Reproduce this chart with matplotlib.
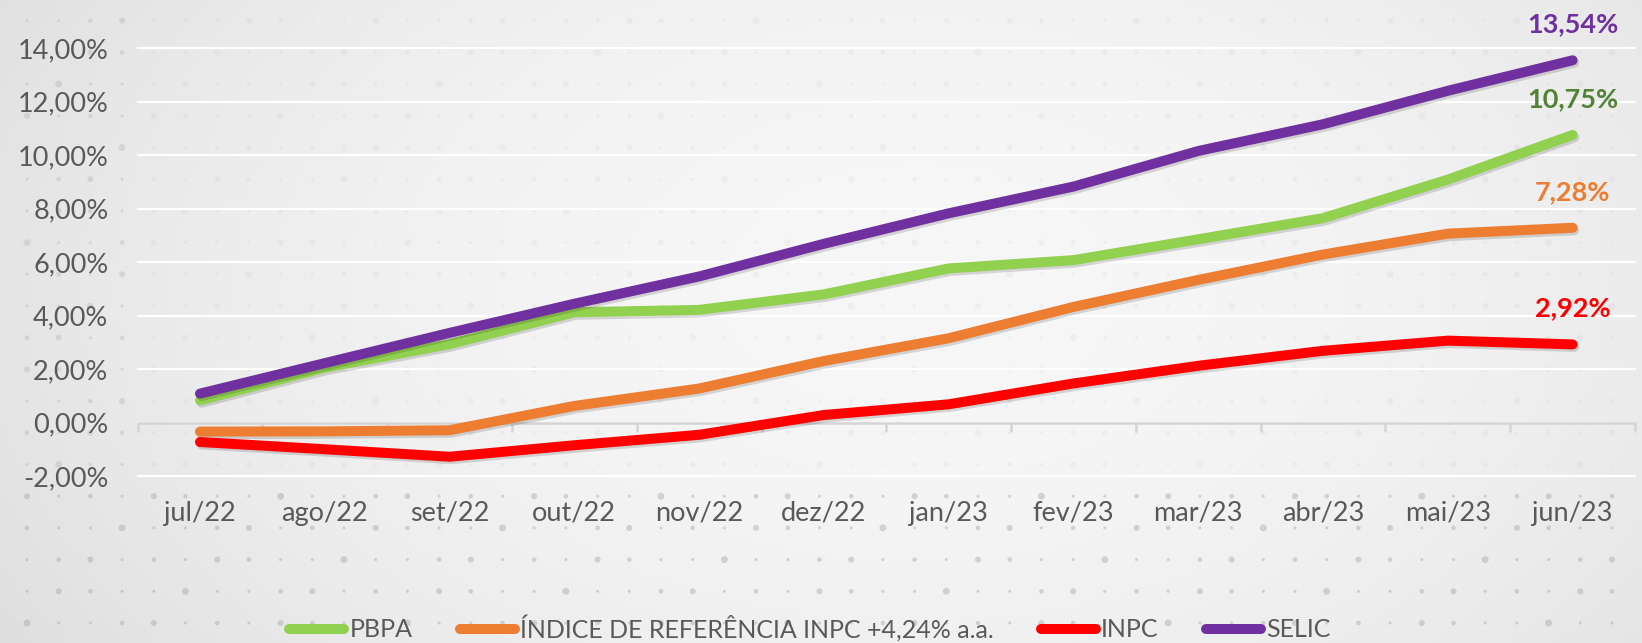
import matplotlib
matplotlib.use("Agg")
import matplotlib.pyplot as plt
import numpy as np
from matplotlib import patheffects as pe
from matplotlib.lines import Line2D
from matplotlib.ticker import FixedLocator, FuncFormatter

# ---------------- data ----------------
months = ["jul/22", "ago/22", "set/22", "out/22", "nov/22", "dez/22",
          "jan/23", "fev/23", "mar/23", "abr/23", "mai/23", "jun/23"]
pbpa = [0.83, 2.05, 2.93, 4.12, 4.21, 4.79, 5.76, 6.07, 6.85, 7.64, 9.08, 10.75]
indice = [-0.34, -0.33, -0.29, 0.62, 1.27, 2.30, 3.15, 4.32, 5.33, 6.28, 7.06, 7.28]
inpc = [-0.73, -1.00, -1.28, -0.85, -0.46, 0.28, 0.68, 1.46, 2.12, 2.68, 3.06, 2.92]
selic = [1.08, 2.22, 3.35, 4.44, 5.46, 6.68, 7.82, 8.82, 10.15, 11.15, 12.40, 13.54]

series_names = ["PBPA", "ÍNDICE DE REFERÊNCIA INPC +4,24% a.a.", "INPC", "SELIC"]
series_values = [pbpa, indice, inpc, selic]
series_colors = ["#92d050", "#ed7d31", "#ff0000", "#7030a0"]
label_colors = ["#548235", "#ed7d31", "#ff0000", "#7030a0"]
y_ticks = [-2, 0, 2, 4, 6, 8, 10, 12, 14]

FONT = ["Lato", "DejaVu Sans"]
plt.rcParams["font.family"] = FONT
TXT = "#595959"

W, H, DPI = 1642, 643, 100
fig = plt.figure(figsize=(W / DPI, H / DPI), dpi=DPI)

# ---------------- background ----------------
bg = fig.add_axes([0, 0, 1, 1], zorder=-10)
bg.set_axis_off()
gx = np.linspace(0, 1, 400)
gy = np.linspace(0, 1, 160)
GX, GY = np.meshgrid(gx, gy)
dx = (GX - 0.56) / 0.56
dy = (GY - 0.45) / 0.55
val = 0.968 - 0.07 * dx ** 2 - 0.025 * dy ** 2
val = np.clip(val, 0, 1)
img = np.dstack([val, val, val])
bg.imshow(img, extent=[0, W, 0, H], origin="upper", aspect="auto")
# faint dot pattern (decoration)
px = np.arange(27, W, 31.7)
py = np.arange(623, -10, -31.7)
DX, DY = np.meshgrid(px, py)
ii, jj = np.meshgrid(np.arange(len(px)), np.arange(len(py)))
sizes = 5 + 14 * (((ii * 3 + jj * 5) % 4) == 0) + 6 * ((ii + jj) % 3 == 0)
alpha_band = np.where(DY > 480, 0.45, 0.10)
alpha_band = np.where(DX < 130, np.maximum(alpha_band, 0.3), alpha_band)
cols = np.zeros((DX.size, 4))
cols[:, :3] = 0.66
cols[:, 3] = alpha_band.ravel()
bg.scatter(DX.ravel(), H - DY.ravel(), s=sizes.ravel(), c=cols, linewidths=0)
bg.set_xlim(0, W)
bg.set_ylim(0, H)

# ---------------- main axes ----------------
left, right, top, bottom = 137.6, 1635.0, 48.0, 476.0
ax = fig.add_axes([left / W, 1 - bottom / H, (right - left) / W, (bottom - top) / H])
ax.set_facecolor("none")
x = np.arange(len(months))
ax.set_xlim(-0.5, len(months) - 0.5)
ax.set_ylim(y_ticks[0], y_ticks[-1])

for s in ["top", "right", "left"]:
    ax.spines[s].set_visible(False)
ax.spines["bottom"].set_position(("data", 0))
ax.spines["bottom"].set_color("#d4d4d4")
ax.spines["bottom"].set_linewidth(1.8)
ax.spines["bottom"].set_zorder(1)

ax.xaxis.set_major_locator(FixedLocator(x))
ax.xaxis.set_minor_locator(FixedLocator(np.arange(len(months) + 1) - 0.5))
ax.tick_params(axis="x", which="major", length=0, labelbottom=False)
ax.tick_params(axis="x", which="minor", length=6.5, width=1.8, color="#d4d4d4", direction="out")

ax.set_yticks(y_ticks)
ax.yaxis.set_major_formatter(FuncFormatter(lambda v, p: f"{v:.2f}%".replace(".", ",")))
ax.tick_params(axis="y", length=0, pad=21, labelsize=19.5, labelcolor=TXT)
ax.yaxis.grid(True, color="white", linewidth=1.6, zorder=0)
for gl in ax.get_ygridlines():
    gl.set_clip_on(False)
ax.set_axisbelow(True)

sec = ax.secondary_xaxis(0.0)
sec.set_xticks(x, months)
sec.tick_params(length=0, pad=18, labelsize=19.5, labelcolor=TXT)
sec.spines["bottom"].set_visible(False)

shadow = [pe.SimpleLineShadow(offset=(1.2, -1.8), shadow_color="black", alpha=0.14), pe.Normal()]
for name, vals, col in zip(series_names, series_values, series_colors):
    ax.plot(x, vals, color=col, lw=7.2, solid_capstyle="round", solid_joinstyle="round",
            path_effects=shadow, zorder=3, label=name)

for vals, col in zip(series_values, label_colors):
    ax.annotate(f"{vals[-1]:.2f}%".replace(".", ","), xy=(x[-1], vals[-1]),
                xytext=(0, 26), textcoords="offset points", ha="center", va="center",
                fontsize=19.5, fontweight="bold", color=col, annotation_clip=False)

handles = [Line2D([], [], color=c, lw=7.2, solid_capstyle="round") for c in series_colors]
fig.legend(handles, series_names, loc="center", bbox_to_anchor=(810 / W, 1 - 628 / H),
           ncol=4, frameon=False, fontsize=18, labelcolor=TXT, handlelength=2.2,
           handletextpad=0.2, columnspacing=1.9, borderaxespad=0, borderpad=0)

fig.savefig("out.png", dpi=DPI)
